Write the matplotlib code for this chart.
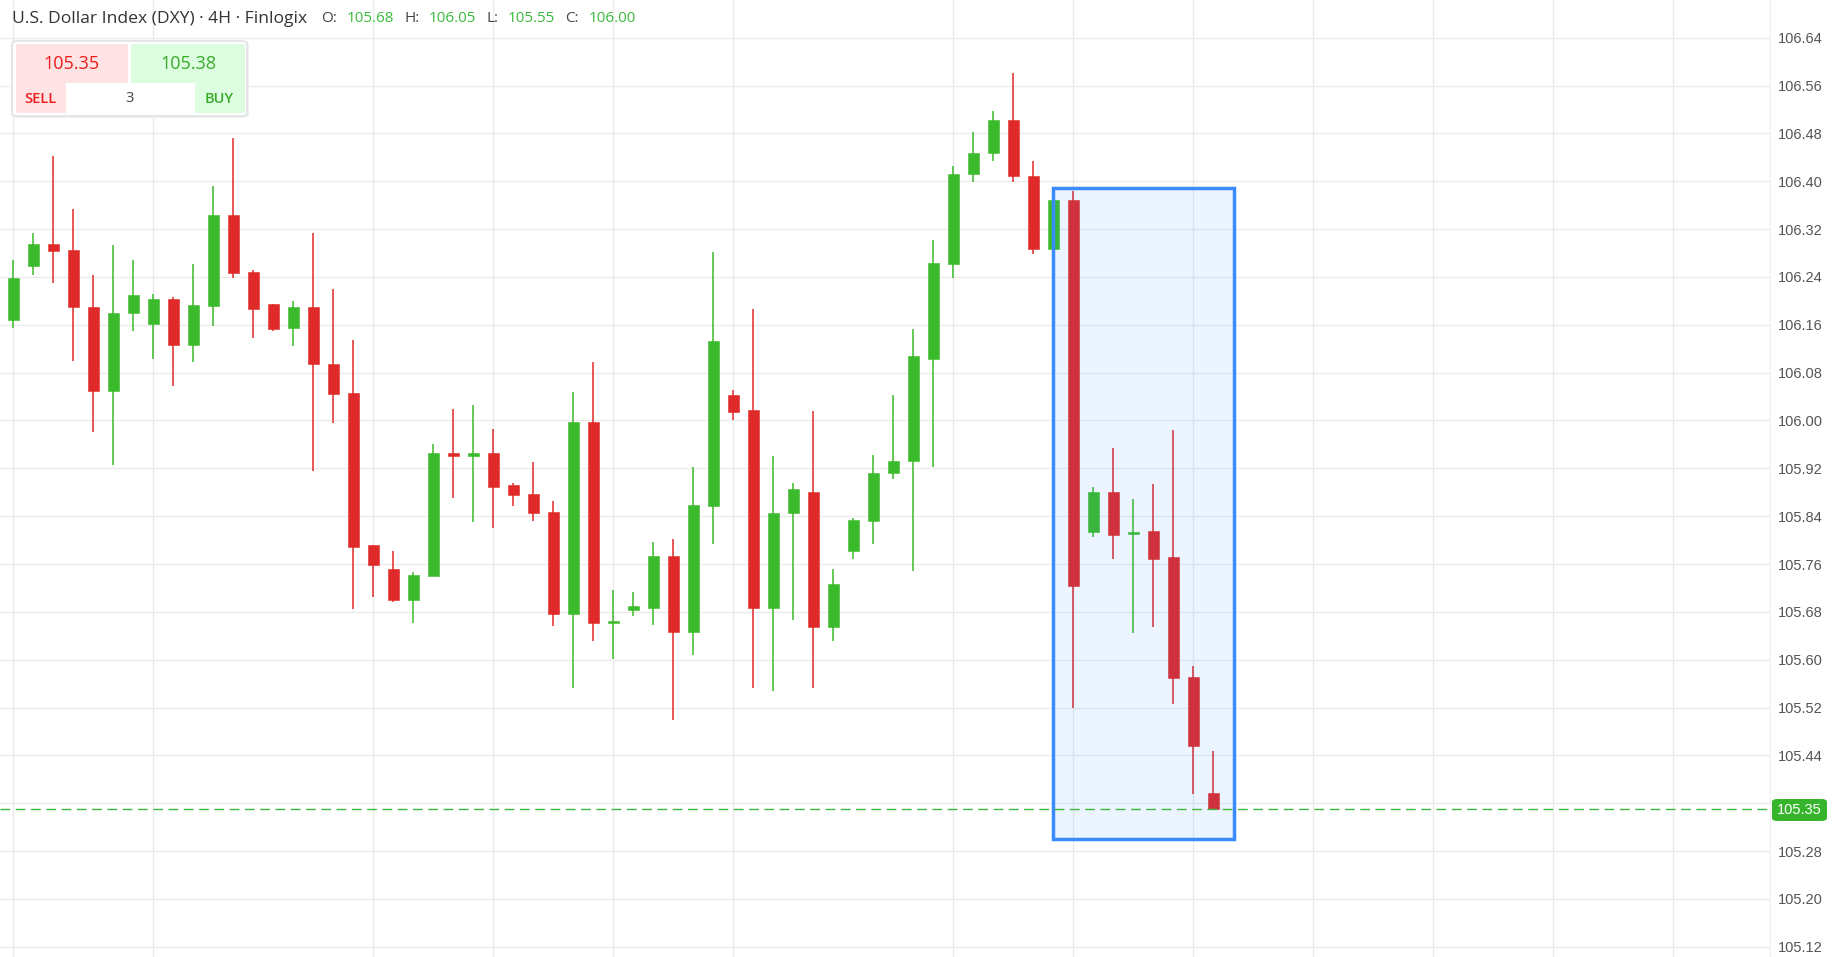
import numpy as np
import matplotlib.pyplot as plt
from matplotlib.patches import Rectangle, FancyBboxPatch

# ---- data (DXY, 4H candles) ----
opens = [106.168, 106.259, 106.295, 106.285, 106.190, 106.049, 106.179, 106.162, 106.203, 106.127,
         106.192, 106.343, 106.248, 106.195, 106.154, 106.190, 106.095, 106.046, 105.791, 105.752,
         105.700, 105.740, 105.946, 105.940, 105.946, 105.892, 105.877, 105.847, 105.676, 105.997,
         105.662, 105.683, 105.687, 105.773, 105.647, 105.857, 106.042, 106.017, 105.686, 105.845,
         105.881, 105.655, 105.782, 105.832, 105.912, 105.932, 106.102, 106.262, 106.412, 106.447,
         106.503, 106.408, 106.287, 106.369, 105.814, 105.880, 105.810, 105.815, 105.771, 105.571,
         105.378]
highs = [106.268, 106.314, 106.443, 106.353, 106.244, 106.294, 106.268, 106.212, 106.207, 106.262,
         106.392, 106.472, 106.252, 106.195, 106.199, 106.313, 106.219, 106.135, 105.791, 105.781,
         105.746, 105.961, 106.020, 106.026, 105.985, 105.896, 105.931, 105.866, 106.047, 106.097,
         105.717, 105.713, 105.797, 105.802, 105.922, 106.282, 106.051, 106.186, 105.940, 105.895,
         106.016, 105.751, 105.837, 105.942, 106.043, 106.153, 106.302, 106.426, 106.482, 106.517,
         106.581, 106.433, 106.369, 106.383, 105.889, 105.954, 105.869, 105.894, 105.984, 105.590,
         105.447]
lows = [106.154, 106.244, 106.230, 106.100, 105.981, 105.926, 106.150, 106.103, 106.058, 106.098,
        106.158, 106.238, 106.138, 106.149, 106.125, 105.916, 105.996, 105.685, 105.705, 105.696,
        105.661, 105.740, 105.871, 105.831, 105.821, 105.857, 105.832, 105.657, 105.553, 105.632,
        105.602, 105.673, 105.658, 105.499, 105.608, 105.793, 106.001, 105.552, 105.547, 105.667,
        105.552, 105.632, 105.768, 105.793, 105.902, 105.748, 105.923, 106.238, 106.398, 106.433,
        106.398, 106.278, 106.287, 105.519, 105.805, 105.769, 105.645, 105.655, 105.526, 105.376,
        105.351]
closes = [106.239, 106.295, 106.283, 106.189, 106.049, 106.180, 106.210, 106.203, 106.127, 106.193,
          106.343, 106.247, 106.187, 106.153, 106.190, 106.094, 106.044, 105.789, 105.759, 105.700,
          105.742, 105.946, 105.940, 105.946, 105.889, 105.876, 105.846, 105.676, 105.997, 105.661,
          105.664, 105.689, 105.773, 105.647, 105.858, 106.133, 106.015, 105.686, 105.846, 105.886,
          105.655, 105.727, 105.833, 105.913, 105.933, 106.108, 106.263, 106.412, 106.448, 106.503,
          106.408, 106.287, 106.369, 105.723, 105.880, 105.809, 105.814, 105.769, 105.569, 105.455,
          105.351]

price_ticks = [106.64, 106.56, 106.48, 106.40, 106.32, 106.24, 106.16, 106.08, 106.00, 105.92,
               105.84, 105.76, 105.68, 105.60, 105.52, 105.44, 105.36, 105.28, 105.20, 105.12]
date_ticks = [0, 7, 18, 24, 30, 36, 47, 53, 59, 65, 71, 77, 83]

last_price = 105.35
bid, ask, lots = '105.35', '105.38', '3'
header_title = 'U.S. Dollar Index (DXY) · 4H · Finlogix'
header_ohlc = [('O:', '105.68'), ('H:', '106.05'), ('L:', '105.55'), ('C:', '106.00')]

# highlighted zone (candle index span, price span)
zone_x = (52, 61.03)
zone_y = (105.300, 106.388)

W, H = 1837, 957
UP = '#3bba2b'
DOWN = '#e02a2a'

fig = plt.figure(figsize=(W / 100, H / 100), dpi=100)
fig.patch.set_facecolor('white')
ax = fig.add_axes([0, 0, 1770 / W, 1])

def fx(x):
    return x / W

def fy(y):
    return 1 - y / H

# candles
idx = np.arange(len(opens))
o = np.array(opens); c = np.array(closes)
hi = np.array(highs); lo = np.array(lows)
cols = [UP if c[i] >= o[i] else DOWN for i in idx]
bottoms = np.minimum(o, c)
heights = np.maximum(np.abs(c - o), 0.0035)
ax.vlines(idx, lo, hi, colors=cols, lw=1.1, zorder=3)
ax.bar(idx, heights, bottom=bottoms, width=0.58, color=cols, edgecolor=cols, lw=0.4, zorder=4)

# highlighted zone
ax.add_patch(Rectangle((zone_x[0], zone_y[0]), zone_x[1] - zone_x[0], zone_y[1] - zone_y[0],
                       facecolor='#2e86ff', alpha=0.09, edgecolor='none', zorder=5))
ax.add_patch(Rectangle((zone_x[0], zone_y[0]), zone_x[1] - zone_x[0], zone_y[1] - zone_y[0],
                       facecolor='none', edgecolor='#3a8bfd', lw=2.5, zorder=6))

# last price line
ax.axhline(last_price, color='#3cb83c', lw=1.0, dashes=(7, 4), zorder=7)

ax.set_xlim(-0.667, 87.83)
ax.set_ylim(105.103, 106.703)
ax.set_xticks(date_ticks)
ax.set_xticklabels([])
ax.set_yticks(price_ticks)
ax.set_yticklabels(['' if abs(t - 105.36) < 1e-6 else '%.2f' % t for t in price_ticks],
                   fontfamily='Liberation Sans')
ax.yaxis.tick_right()
ax.tick_params(axis='y', length=0, pad=6, labelsize=10.5, labelcolor='#555555')
ax.tick_params(axis='x', length=0)
ax.grid(True, color='#ebebeb', lw=1.0, zorder=0)
ax.set_axisbelow(True)
for s in ['top', 'left', 'bottom']:
    ax.spines[s].set_visible(False)
ax.spines['right'].set_color('#eeeeee')

# price label on the axis
fig.patches.append(FancyBboxPatch((fx(1772), fy(821)), fx(1827) - fx(1772), fy(799) - fy(821),
                                  boxstyle='round,pad=0,rounding_size=0.003',
                                  transform=fig.transFigure, facecolor='#36b52c',
                                  edgecolor='none', zorder=10))
fig.text(fx(1799.5), fy(810), '%.2f' % last_price, color='white', fontsize=10.5,
         fontfamily='Liberation Sans', ha='center', va='center', zorder=11)

# header
hfont = 'Open Sans'
fig.text(fx(12), fy(19), header_title, fontsize=12.6, color='#333333', fontfamily=hfont,
         va='center', ha='left')
lab_x = [321, 404, 487, 565]
val_x = [347, 429, 508, 589]
for (lab, val), lx, vx in zip(header_ohlc, lab_x, val_x):
    fig.text(fx(lx), fy(19), lab, fontsize=11, color='#444444', fontfamily=hfont, va='center')
    fig.text(fx(vx), fy(19), val, fontsize=11, color='#3cba3c', fontfamily=hfont, va='center')

# trade widget (soft shadow + box)
fig.patches.append(FancyBboxPatch((fx(11), fy(118)), fx(249) - fx(11), fy(41) - fy(118),
                                  boxstyle='round,pad=0,rounding_size=0.004',
                                  transform=fig.transFigure, facecolor='#f0f0f0',
                                  edgecolor='none', zorder=7))
fig.patches.append(FancyBboxPatch((fx(12), fy(116)), fx(247) - fx(12), fy(41) - fy(116),
                                  boxstyle='round,pad=0,rounding_size=0.003',
                                  transform=fig.transFigure, facecolor='white',
                                  edgecolor='#e2e2e2', lw=1.2, zorder=8))
cells = [((16, 44, 128, 83), '#fde3e3'), ((131, 44, 245, 83), '#dcfde0'),
         ((16, 83, 66, 113), '#fde3e3'), ((195, 83, 245, 113), '#dcfde0')]
for (x0, y0, x1, y1), col in cells:
    fig.patches.append(Rectangle((fx(x0), fy(y1)), fx(x1) - fx(x0), fy(y0) - fy(y1),
                                 transform=fig.transFigure, facecolor=col, edgecolor='none',
                                 zorder=9))
fig.text(fx(71), fy(64), bid, fontsize=13, color='#f01c1c', fontfamily=hfont,
         ha='center', va='center', zorder=12)
fig.text(fx(188), fy(64), ask, fontsize=13, color='#3aaa2a', fontfamily=hfont,
         ha='center', va='center', zorder=12)
fig.text(fx(40), fy(99), 'SELL', fontsize=10.5, color='#f01c1c', fontfamily=hfont,
         fontweight='semibold', ha='center', va='center', zorder=12)
fig.text(fx(129), fy(99), lots, fontsize=10.5, color='#444444', fontfamily=hfont,
         ha='center', va='center', zorder=12)
fig.text(fx(219), fy(99), 'BUY', fontsize=10.5, color='#3aaa2a', fontfamily=hfont,
         fontweight='semibold', ha='center', va='center', zorder=12)

plt.savefig('out.png', dpi=100)
